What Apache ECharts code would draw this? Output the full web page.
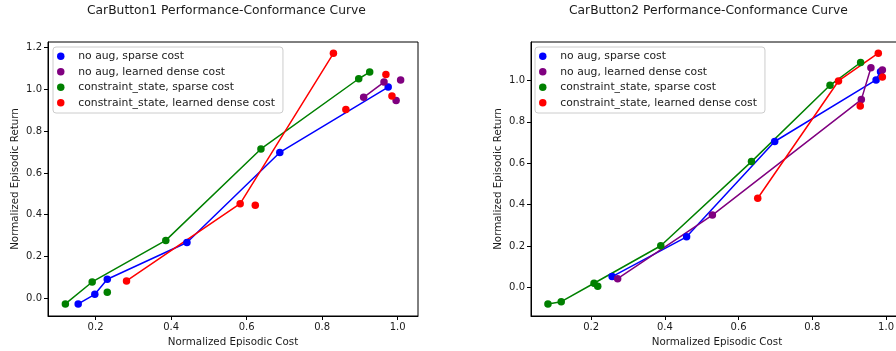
<!DOCTYPE html>
<html>
<head>
<meta charset="utf-8">
<script src="https://cdn.jsdelivr.net/npm/echarts@6/dist/echarts.min.js"></script>
<style>
  html, body { margin: 0; padding: 0; background: #fff; }
  #chart { width: 896px; height: 351px; }
</style>
</head>
<body>
<div id="chart"></div>
<script>
// legend names
const seriesNames = [
    'no aug, sparse cost',
    'no aug, learned dense cost',
    'constraint_state, sparse cost',
    'constraint_state, learned dense cost'
];
const seriesColors = ['#0000ff', '#800080', '#008000', '#ff0000'];

// CarButton1: frontier points (joined) and the other points
const b1Frontier = [
    [[0.154, -0.027], [0.198, 0.019], [0.231, 0.091], [0.442, 0.267], [0.688, 0.698], [0.975, 1.011]],
    [[0.910, 0.962], [0.964, 1.035]],
    [[0.120, -0.027], [0.191, 0.078], [0.386, 0.277], [0.638, 0.715], [0.897, 1.051], [0.926, 1.083]],
    [[0.282, 0.083], [0.583, 0.453], [0.830, 1.173]]
];
const b1Others = [
    [],
    [[0.996, 0.947], [1.008, 1.045]],
    [[0.231, 0.029]],
    [[0.623, 0.445], [0.863, 0.904], [0.969, 1.071], [0.985, 0.968]]
];

// CarButton2
const b2Frontier = [
    [[0.257, 0.053], [0.459, 0.245], [0.698, 0.705], [0.973, 1.002], [0.985, 1.042]],
    [[0.272, 0.043], [0.529, 0.350], [0.933, 0.907], [0.959, 1.061]],
    [[0.083, -0.079], [0.119, -0.068], [0.208, 0.021], [0.389, 0.202], [0.635, 0.608], [0.848, 0.976], [0.931, 1.086]],
    [[0.652, 0.431], [0.871, 0.997], [0.979, 1.131]]
];
const b2Others = [
    [],
    [[0.990, 1.050]],
    [[0.218, 0.007]],
    [[0.930, 0.876], [0.990, 1.016]]
];

const xTicks = [0.2, 0.4, 0.6, 0.8, 1.0];
const y1Ticks = [0.0, 0.2, 0.4, 0.6, 0.8, 1.0, 1.2];
const y2Ticks = [0.0, 0.2, 0.4, 0.6, 0.8, 1.0];

const FONT = 'DejaVu Sans';
const TXT = '#1a1a1a';

function xAxisFor(gridIndex, min, max) {
    return {
        type: 'value', gridIndex: gridIndex, min: min, max: max,
        name: 'Normalized Episodic Cost', nameLocation: 'middle', nameGap: 21,
        nameTextStyle: { fontFamily: FONT, fontSize: 10.3, color: TXT },
        axisLine: { show: true, onZero: false, lineStyle: { color: '#000', width: 1 } },
        axisTick: { show: true, length: 4, customValues: xTicks, lineStyle: { color: '#000' } },
        axisLabel: {
            margin: 6, customValues: xTicks, fontFamily: FONT, fontSize: 10, color: TXT,
            formatter: v => v.toFixed(1)
        },
        splitLine: { show: false }
    };
}

function yAxisFor(gridIndex, min, max, ticks) {
    return {
        type: 'value', gridIndex: gridIndex, min: min, max: max,
        name: 'Normalized Episodic Return', nameLocation: 'middle', nameGap: 28,
        nameTextStyle: { fontFamily: FONT, fontSize: 10.3, color: TXT },
        axisLine: { show: true, onZero: false, lineStyle: { color: '#000', width: 1 } },
        axisTick: { show: true, length: 4, customValues: ticks, lineStyle: { color: '#000' } },
        axisLabel: {
            margin: 6, customValues: ticks, fontFamily: FONT, fontSize: 10, color: TXT,
            formatter: v => v.toFixed(1)
        },
        splitLine: { show: false }
    };
}

function legendAt(left) {
    return {
        data: seriesNames, orient: 'vertical', left: left, top: 47,
        icon: 'circle', itemWidth: 25, itemHeight: 7.5, itemGap: 3,
        padding: [3, 8, 4, 4],
        backgroundColor: '#fff', borderColor: '#cccccc', borderWidth: 1, borderRadius: 3,
        textStyle: { fontFamily: FONT, fontSize: 10.8, color: TXT, lineHeight: 12.5 },
        selectedMode: false
    };
}

function seriesFor(idx, frontier, others) {
    const out = [];
    for (let i = 0; i < seriesNames.length; i++) {
        out.push({
            name: seriesNames[i], type: 'line', xAxisIndex: idx, yAxisIndex: idx,
            data: frontier[i], symbol: 'circle', symbolSize: 7.5, showSymbol: true,
            color: seriesColors[i], lineStyle: { width: 1.5, color: seriesColors[i] },
            itemStyle: { color: seriesColors[i] }, animation: false, z: 2
        });
        out.push({
            name: seriesNames[i], type: 'scatter', xAxisIndex: idx, yAxisIndex: idx,
            data: others[i], symbol: 'circle', symbolSize: 7.5,
            itemStyle: { color: seriesColors[i], opacity: 1 }, animation: false, z: 3
        });
    }
    return out;
}

const chart = echarts.init(document.getElementById('chart'));

const option = {
    backgroundColor: '#fff',
    animation: false,
    title: [
        { text: 'CarButton1 Performance-Conformance Curve', left: 87, top: 5, padding: 0,
          textStyle: { fontFamily: FONT, fontSize: 12.3, fontWeight: 'normal', color: TXT } },
        { text: 'CarButton2 Performance-Conformance Curve', left: 569, top: 5, padding: 0,
          textStyle: { fontFamily: FONT, fontSize: 12.3, fontWeight: 'normal', color: TXT } }
    ],
    legend: [legendAt(53), legendAt(535)],
    grid: [
        { left: 48, top: 42, width: 370, height: 274, show: true, borderColor: '#000', borderWidth: 1,
          backgroundColor: 'transparent', outerBoundsMode: 'none' },
        { left: 531, top: 42, width: 372, height: 274, show: true, borderColor: '#000', borderWidth: 1,
          backgroundColor: 'transparent', outerBoundsMode: 'none' }
    ],
    xAxis: [xAxisFor(0, 0.074, 1.054), xAxisFor(1, 0.037, 1.046)],
    yAxis: [yAxisFor(0, -0.085, 1.227, y1Ticks), yAxisFor(1, -0.137, 1.185, y2Ticks)],
    series: seriesFor(0, b1Frontier, b1Others).concat(seriesFor(1, b2Frontier, b2Others))
};

chart.setOption(option);
</script>
</body>
</html>
